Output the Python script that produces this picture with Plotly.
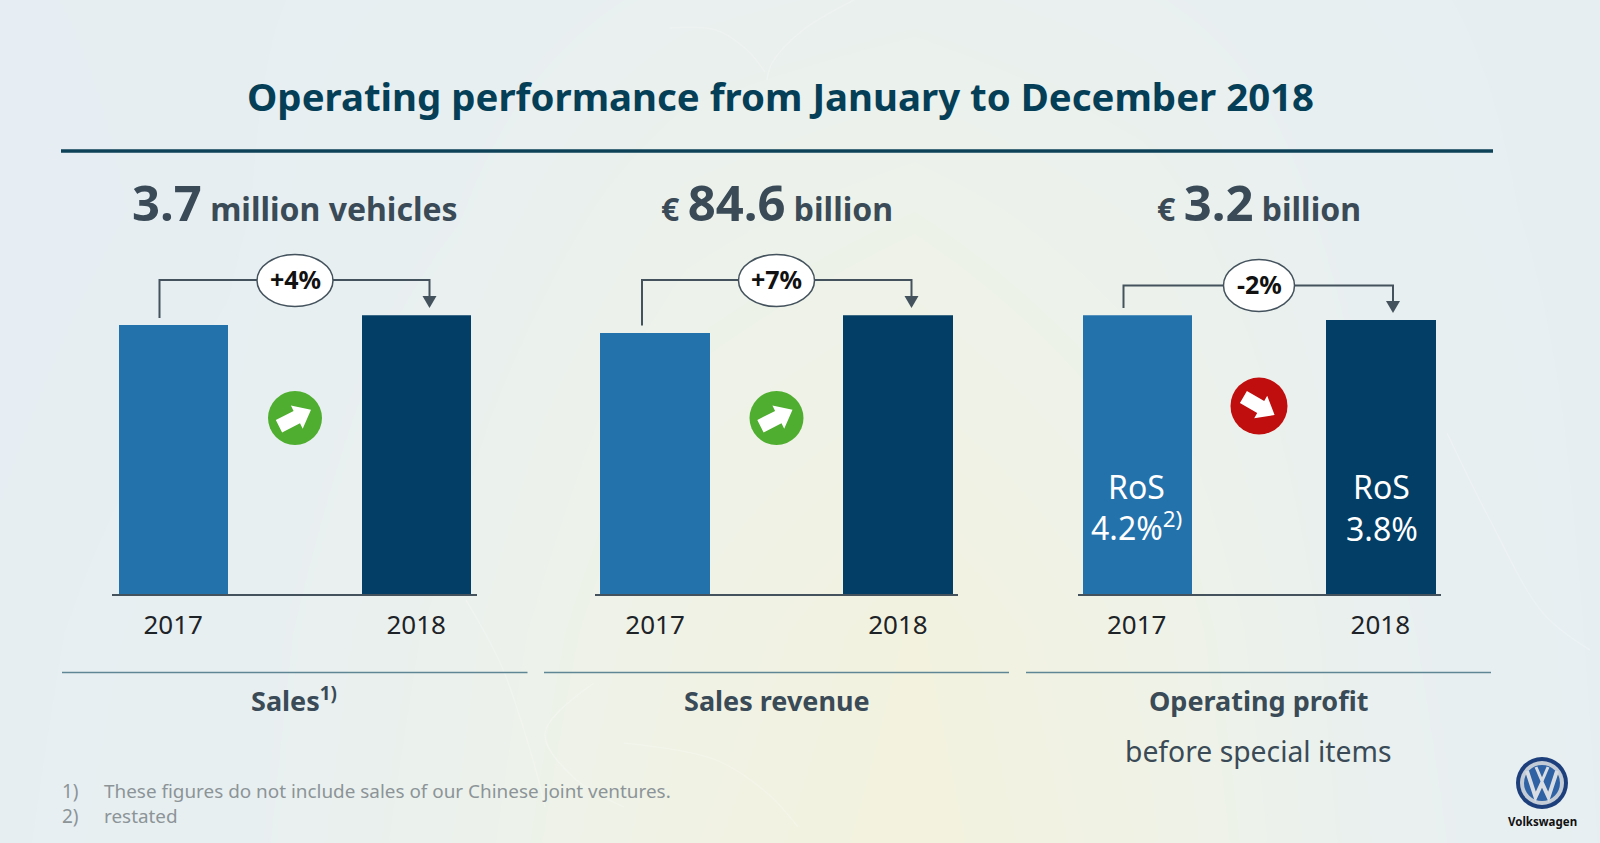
import math
import plotly.graph_objects as go

FONT = "Noto Sans"
INK = "#3a4b57"

years = ["2017", "2018"]
sales = [3.57, 3.7]
revenue = [79.0, 84.6]
profit = [3.26, 3.2]
bar_colors = ["#2372ac", "#023e66"]

title = "<b>Operating performance from January to December 2018</b>"
labels = ["<b>Sales<sup>1)</sup></b>", "<b>Sales revenue</b>", "<b>Operating profit</b>"]
headers = [
    "<b><span style='font-size:49px'>3.7</span> million vehicles</b>",
    "<b>€ <span style='font-size:49px'>84.6</span> billion</b>",
    "<b>€ <span style='font-size:49px'>3.2</span> billion</b>",
]
changes = ["+4%", "+7%", "-2%"]

# background wash, sampled by eye
bg_z = [
    [0.02, 0.05, 0.10, 0.22, 0.28, 0.20, 0.08, 0.03],
    [0.00, 0.05, 0.18, 0.42, 0.52, 0.38, 0.12, 0.03],
    [0.02, 0.08, 0.28, 0.58, 0.72, 0.52, 0.18, 0.04],
    [0.04, 0.12, 0.36, 0.70, 0.95, 0.66, 0.22, 0.05],
    [0.05, 0.14, 0.40, 0.78, 1.00, 0.72, 0.25, 0.06],
]

# faint white streaks in the background
streaks = [
    ([854, 803, 772, 767], [0, 30, 63, 80]),
    ([670, 716, 747, 765], [28, 30, 50, 72]),
    ([466, 502, 533, 545], [600, 667, 760, 807]),
    ([594, 545, 573, 624], [683, 733, 777, 807]),
    ([624, 716, 767, 798], [743, 760, 793, 827]),
    ([1447, 1490, 1543, 1590], [433, 520, 613, 650]),
]


# left/right edge of each panel's axis in page pixels, and its category range
panels = [
    dict(values=sales, left=112, right=476.5, lo=-0.252, hi=1.248),
    dict(values=revenue, left=595, right=958, lo=-0.247, hi=1.247),
    dict(values=profit, left=1077.5, right=1441, lo=-0.243, hi=1.249),
]

fig = go.Figure()

# page-sized axes first, so everything else sits on top of it
fig.add_trace(go.Heatmap(
    z=bg_z, x0=0, dx=1600 / 7, y0=0, dy=843 / 4, zsmooth="best", showscale=False,
    colorscale=[[0, "#e6eef3"], [0.5, "#edf2ea"], [1, "#f3f2de"]], zmin=0, zmax=1,
    hoverinfo="skip",
))
for sx, sy in streaks:
    fig.add_trace(go.Scatter(
        x=sx, y=sy, mode="lines", line=dict(color="rgba(255,255,255,0.22)", width=1.5, shape="spline"),
        hoverinfo="skip", showlegend=False,
    ))

layout_axes = dict(
    xaxis=dict(domain=[0, 1], range=[0, 1600], visible=False, fixedrange=True),
    yaxis=dict(domain=[0, 1], range=[843, 0], visible=False, fixedrange=True),
)

for i, p in enumerate(panels):
    n = i + 2
    fig.add_trace(go.Bar(
        x=years, y=p["values"], marker=dict(color=bar_colors, line_width=0), width=0.449,
        xaxis=f"x{n}", yaxis=f"y{n}", showlegend=False,
    ))
    layout_axes[f"xaxis{n}"] = dict(
        domain=[p["left"] / 1600, p["right"] / 1600], anchor=f"y{n}", type="category",
        range=[p["lo"], p["hi"]], showline=True, linecolor="#43525c", linewidth=2,
        ticks="outside", ticklen=7, tickcolor="rgba(0,0,0,0)", showgrid=False,
        tickfont=dict(family=FONT, size=26, color="#1d2327"), fixedrange=True,
    )
    layout_axes[f"yaxis{n}"] = dict(
        domain=[1 - 594 / 843, 1 - 315.3 / 843], anchor=f"x{n}", range=[0, max(p["values"])],
        visible=False, fixedrange=True,
    )

fig.update_layout(
    width=1600, height=843, margin=dict(l=0, r=0, t=0, b=0), showlegend=False,
    paper_bgcolor="#e8eff3", plot_bgcolor="rgba(0,0,0,0)", bargap=0, **layout_axes,
)


def text(x, y, s, size, color=INK, anchor="center", family=FONT):
    fig.add_annotation(
        x=x, y=y, xref="x", yref="y", text=s, showarrow=False, xanchor=anchor, yanchor="middle",
        font=dict(family=family, size=size, color=color),
    )


def line(x0, y0, x1, y1, color, width):
    fig.add_shape(type="line", x0=x0, y0=y0, x1=x1, y1=y1, xref="x", yref="y",
                  line=dict(color=color, width=width))


def disc(cx, cy, rx, ry, fill, edge=None, width=0):
    fig.add_shape(type="circle", x0=cx - rx, y0=cy - ry, x1=cx + rx, y1=cy + ry, xref="x", yref="y",
                  fillcolor=fill, line=dict(color=edge or fill, width=width))


def poly(points, fill):
    path = "M " + " L ".join(f"{x:.1f},{y:.1f}" for x, y in points) + " Z"
    fig.add_shape(type="path", path=path, xref="x", yref="y", fillcolor=fill, line_width=0)


def arrow_icon(cx, cy, r, angle, fill):
    disc(cx, cy, r, r, fill)
    a = math.radians(angle)
    outline = [(-18, -7), (2, -7), (2, -13), (18, 0), (2, 13), (2, 7), (-18, 7)]
    poly([(cx + u * math.cos(a) - v * math.sin(a), cy + u * math.sin(a) + v * math.cos(a))
          for u, v in outline], "white")


def bracket(x0, y_start, y_top, x1, y_tip, cx, cy, rx, label):
    stroke = "#43525c"
    path = f"M {x0},{y_start} L {x0},{y_top} L {x1},{y_top} L {x1},{y_tip - 8}"
    fig.add_shape(type="path", path=path, xref="x", yref="y", line=dict(color=stroke, width=2))
    poly([(x1 - 7, y_tip - 12), (x1 + 7, y_tip - 12), (x1, y_tip)], stroke)
    disc(cx, cy, rx, 26, "white", stroke, 1.5)
    text(cx, cy - 2, f"<b>{label}</b>", 25, "#111111")


text(780, 96, title, 38.4, "#053f57")
line(61, 151, 1493, 151, "#0d4258", 3.5)

text(295, 202, headers[0], 32)
text(776.5, 202, headers[1], 32)
text(1259, 202, headers[2], 32)

bracket(159.5, 318, 280, 429.5, 308, 295, 280.5, 38, changes[0])
bracket(642, 325.5, 280, 911.5, 308, 776.5, 280.5, 38, changes[1])
bracket(1123.5, 308, 285.5, 1393, 313, 1259, 285.5, 35.5, changes[2])

arrow_icon(295, 418, 27, -27, "#4fae2f")
arrow_icon(776.5, 418, 27, -27, "#4fae2f")
arrow_icon(1259, 406, 28.5, 30, "#c00d0d")

text(1136, 486, "RoS", 32, "white")
text(1136, 526, "4.2%<sup>2)</sup>", 32, "white")
text(1381.5, 486, "RoS", 32, "white")
text(1381.5, 528, "3.8%", 32, "white")

line(62, 672.5, 527.5, 672.5, "#5f8694", 1.5)
line(544, 672.5, 1009, 672.5, "#5f8694", 1.5)
line(1026, 672.5, 1491, 672.5, "#5f8694", 1.5)

text(294, 699, labels[0], 27)
text(776.5, 700, labels[1], 27)
text(1258, 700, labels[2], 27)
text(1258, 751, "before special items", 28.3)

text(60, 791, "1)", 19, "#8c9498", "left")
text(102, 791, "These figures do not include sales of our Chinese joint ventures.", 18.9, "#8c9498", "left")
text(60, 816, "2)", 19, "#8c9498", "left")
text(102, 816, "restated", 18.9, "#8c9498", "left")

# logo
disc(1542, 783, 26, 26, "#1d3f7c")
disc(1542, 783, 22, 22, "#c3ccd6")
disc(1542, 783, 18, 18, "#2e62a4")
fig.add_shape(type="path", path="M 1527,771 L 1535.5,797 L 1542,783 L 1548.5,797 L 1557,771",
              xref="x", yref="y", line=dict(color="#d8dde3", width=4))
line(1536, 767, 1542, 781, "#d8dde3", 3)
line(1548, 767, 1542, 781, "#d8dde3", 3)
text(1542, 821, "<b>Volkswagen</b>", 11.5, "#111111")

fig.write_html("out.html", post_script="document.body.style.margin='0';",
               config={"displayModeBar": False})
